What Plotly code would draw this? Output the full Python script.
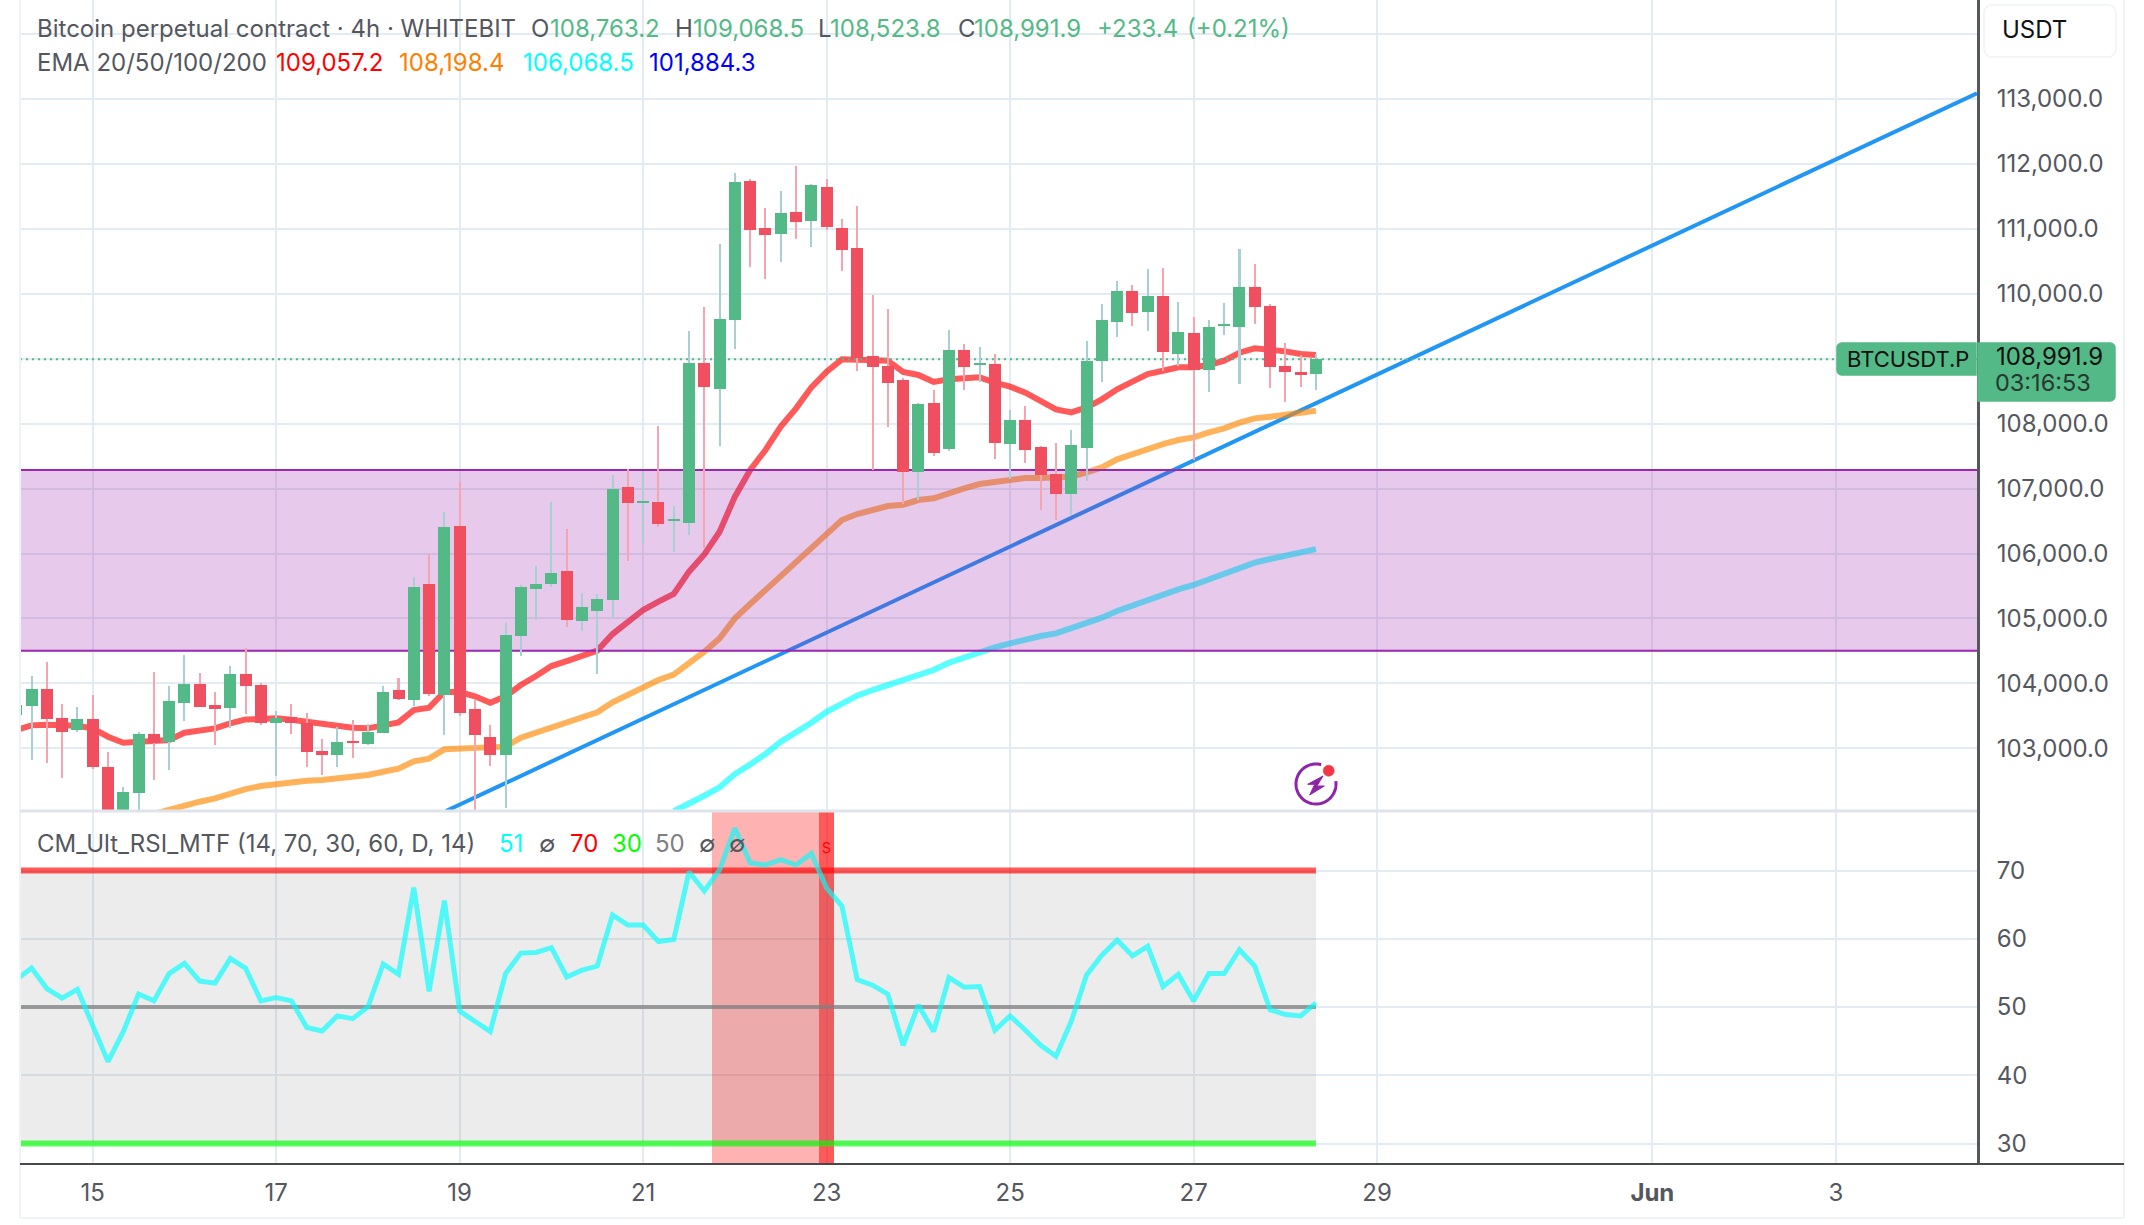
import numpy as np
import pandas as pd
import plotly.graph_objects as go

W, H = 2144, 1225
FONT = "Inter"

# 4h candles, BTCUSDT perpetual
candle_times = pd.date_range("2025-05-14 04:00", periods=86, freq="4h")
opens = [103512, 103651, 103913, 103466, 103281, 103451, 102711, 101900, 102311, 103220,
         103096, 103697, 103990, 103666, 103620, 104144, 103974, 103389, 103481, 103389,
         102958, 102896, 103112, 103065, 103235, 103897, 103744, 105531, 103821, 106424,
         103605, 103174, 102896, 104730, 105454, 105531, 105731, 104961, 105115, 105284,
         107025, 106778, 106794, 106501, 106470, 108935, 108534, 109597, 111738, 111014,
         110922, 111261, 111122, 111646, 111014, 110706, 109043, 108889, 108673, 107256,
         108318, 107610, 109135, 108904, 108919, 107686, 108056, 107640, 107224, 106916,
         107625, 108965, 109566, 110043, 109720, 109966, 109073, 109396, 108827, 109504,
         109489, 110105, 109812, 108888, 108796, 108763.2]
highs = [103750, 104113, 104329, 103682, 103635, 103820, 102942, 102403, 103250, 104175,
         103959, 104437, 104159, 103867, 104267, 104544, 104005, 103574, 103682, 103543,
         103142, 103327, 103435, 103374, 103959, 104082, 105638, 105993, 106640, 107102,
         103744, 103359, 104930, 105515, 105808, 106794, 106378, 105392, 105377, 107210,
         107302, 107271, 107965, 106732, 109428, 109797, 110768, 111862, 111769, 111322,
         111584, 111970, 111690, 111769, 111153, 111353, 109982, 109767, 108704, 108318,
         108519, 109443, 109227, 109181, 109073, 108210, 108272, 107650, 107702, 107902,
         109273, 109843, 110198, 110136, 110382, 110398, 109874, 109643, 109597, 109859,
         110690, 110459, 109843, 109242, 109058, 109068.5]
lows = [103400, 102819, 102778, 102542, 103250, 102680, 101800, 101700, 102000, 102511,
        102665, 103420, 103630, 103050, 103312, 103528, 103358, 102573, 103220, 102711,
        102588, 102711, 102850, 103050, 103230, 103743, 103651, 103805, 103204, 103497,
        102050, 102727, 102080, 104421, 104976, 105484, 104868, 104807, 104144, 105022,
        105885, 106162, 106409, 106024, 106285, 106085, 107656, 109150, 110414, 110229,
        110491, 110845, 110722, 110984, 110352, 108812, 107286, 107949, 106763, 106824,
        107502, 107579, 108519, 108642, 107456, 107147, 107394, 106670, 106516, 106593,
        107117, 108642, 109335, 109504, 109427, 108811, 108888, 107440, 108488, 109366,
        108611, 109535, 108549, 108333, 108565, 108523.8]
closes = [103666, 103913, 103451, 103250, 103451, 102711, 101950, 102326, 103220, 103081,
          103728, 103990, 103635, 103605, 104144, 103959, 103389, 103466, 103389, 102942,
          102896, 103096, 103081, 103250, 103867, 103759, 105484, 103836, 106409, 103543,
          103204, 102896, 104745, 105484, 105531, 105700, 104976, 105176, 105299, 106994,
          106778, 106809, 106455, 106532, 108935, 108565, 109613, 111723, 110984, 110907,
          111245, 111107, 111677, 111030, 110675, 109012, 108873, 108627, 107256, 108303,
          107548, 109135, 108873, 108935, 107702, 108056, 107594, 107209, 106916, 107671,
          108965, 109597, 110043, 109705, 109966, 109104, 109412, 108827, 109489, 109535,
          110105, 109797, 108873, 108796, 108749, 108991.9]

ema20 = [103281, 103353, 103363, 103363, 103348, 103307, 103178, 103086, 103096, 103096,
         103127, 103240, 103281, 103307, 103384, 103445, 103451, 103461, 103440, 103410,
         103363, 103343, 103317, 103307, 103358, 103399, 103589, 103625, 103867, 103867,
         103800, 103700, 103800, 103975, 104113, 104267, 104344, 104421, 104504, 104760,
         104945, 105130, 105258, 105377, 105721, 105985, 106336, 106876, 107286, 107595,
         107954, 108236, 108560, 108801, 108991, 108991, 108981, 108971, 108796, 108750,
         108642, 108683, 108698, 108714, 108631, 108570, 108477, 108349, 108221, 108174,
         108251, 108375, 108529, 108647, 108765, 108816, 108868, 108868, 108903, 108970,
         109093, 109160, 109145, 109114, 109073, 109057.2]
ema50 = [None, None, None, None, None, None, None, None, None, 101990,
         102059, 102126, 102177, 102229, 102306, 102372, 102418, 102449, 102485, 102501,
         102511, 102537, 102562, 102588, 102639, 102685, 102800, 102840, 102984, 103000,
         103006, 103012, 103025, 103163, 103240, 103333, 103410, 103477, 103554, 103708,
         103821, 103949, 104052, 104135, 104308, 104488, 104693, 105001, 105222, 105438,
         105669, 105874, 106080, 106320, 106516, 106608, 106680, 106732, 106752, 106824,
         106850, 106937, 107004, 107070, 107106, 107147, 107163, 107163, 107163, 107183,
         107250, 107327, 107450, 107532, 107620, 107686, 107748, 107789, 107866, 107928,
         108015, 108082, 108108, 108138, 108169, 108198.4]
ema100 = [None] * 43 + [102030, 102162, 102269, 102398, 102603, 102752, 102911, 103101,
                        103245, 103394, 103563, 103692, 103810, 103897, 103974, 104051,
                        104139, 104205, 104318, 104400, 104477, 104554, 104616, 104678,
                        104729, 104770, 104847, 104924, 105012, 105114, 105196, 105294,
                        105371, 105448, 105515, 105602, 105679, 105782, 105859, 105915,
                        105972, 106028, 106068.5]

rsi = [54.0, 55.7, 52.7, 51.3, 52.6, 47.4, 42.0, 46.4, 51.9, 50.9,
       54.9, 56.4, 53.8, 53.5, 57.1, 55.7, 50.9, 51.4, 50.9, 47.0,
       46.5, 48.7, 48.3, 50.0, 56.3, 54.8, 67.5, 52.3, 65.6, 49.4,
       47.8, 46.4, 54.9, 57.9, 58.0, 58.7, 54.4, 55.4, 56.0, 63.5,
       62.0, 62.0, 59.6, 59.9, 69.8, 67.0, 70.1, 76.2, 71.1, 70.8,
       71.6, 70.8, 72.5, 67.4, 64.8, 54.0, 53.2, 51.9, 44.4, 50.3,
       46.4, 54.3, 52.9, 53.0, 46.6, 48.7, 46.6, 44.4, 42.8, 47.9,
       54.7, 57.6, 59.8, 57.5, 58.9, 53.0, 54.8, 50.9, 54.9, 54.9,
       58.4, 56.0, 49.6, 48.9, 48.7, 50.6]

zone_low, zone_high = 104503, 107287
last_close = 108991.9
trend_times = ["2025-05-18 20:25", "2025-06-04 12:56"]
trend_prices = [102034, 113089]
rsi_upper, rsi_lower, rsi_mid = 70, 30, 50
overbought_times = ["2025-05-21 20:00", "2025-05-22 00:00", "2025-05-22 04:00", "2025-05-22 08:00",
                    "2025-05-22 12:00", "2025-05-22 16:00", "2025-05-22 20:00"]
sell_time = "2025-05-23 00:00"

price_ticks = list(range(103000, 114001, 1000))
covered_ticks = [109000, 114000]
rsi_ticks = [30, 40, 50, 60, 70]
date_ticks = ["2025-05-15", "2025-05-17", "2025-05-19", "2025-05-21", "2025-05-23",
              "2025-05-25", "2025-05-27", "2025-05-29", "2025-06-01", "2025-06-03"]
date_labels = ["15", "17", "19", "21", "23", "25", "27", "29", "<b>Jun</b>", "3"]
x_window = ["2025-05-14 04:59", "2025-06-04 12:56"]
price_window = [102034, 114526]
rsi_window = [27.0, 78.72]

GREEN, RED = "#53b987", "#ef4f5f"
GREEN_WICK, RED_WICK = "#a8cfd2", "#f6a5b0"
GRID = "#e3ecf2"
AXIS_TEXT = "#55575e"
HOUR = 3600_000

# pixel helpers for the chrome drawn in paper coordinates
def px(x):
    return x / W

def py(y):
    return 1 - y / H

def path_of(points, close=False):
    cmds = ["M" if i == 0 else "L" for i in range(len(points))]
    body = " ".join(f"{c}{px(x):.6f},{py(y):.6f}" for c, (x, y) in zip(cmds, points))
    return body + (" Z" if close else "")

def rounded(x0, y0, x1, y1, r_left, r_right):
    pts = []
    corners = [(x0, y0, r_left, 180), (x1, y0, r_right, 270), (x1, y1, r_right, 0), (x0, y1, r_left, 90)]
    signs = [(1, 1), (-1, 1), (-1, -1), (1, -1)]
    for (cx, cy, r, start), (sx, sy) in zip(corners, signs):
        if r == 0:
            pts.append((cx, cy))
            continue
        for a in np.radians(np.linspace(start, start + 90, 7)):
            pts.append((cx + sx * r + r * np.cos(a), cy + sy * r + r * np.sin(a)))
    return path_of(pts, close=True)

fig = go.Figure()

# trend line, moving averages and last-price line sit on the base price axis
fig.add_trace(go.Scatter(x=trend_times, y=trend_prices, mode="lines",
                         line=dict(color="#2196f3", width=4), xaxis="x", yaxis="y"))
for series, colour in ((ema100, "rgba(0,255,255,0.65)"), (ema50, "rgba(255,136,0,0.65)"), (ema20, "rgba(255,0,0,0.65)")):
    fig.add_trace(go.Scatter(x=candle_times, y=series, mode="lines",
                             line=dict(color=colour, width=6), xaxis="x", yaxis="y"))
fig.add_trace(go.Scatter(x=x_window, y=[last_close, last_close], mode="lines",
                         line=dict(color=GREEN, width=2, dash="2px,4px"), xaxis="x", yaxis="y"))

# support zone, tinting what lies beneath it
fig.add_trace(go.Scatter(x=["2025-05-14", "2025-06-05", "2025-06-05", "2025-05-14", "2025-05-14"],
                         y=[zone_low, zone_low, zone_high, zone_high, zone_low],
                         mode="lines", fill="toself", fillcolor="rgba(156,39,176,0.25)",
                         line=dict(color="#9c27b0", width=2), xaxis="x", yaxis="y3"))

# candles on the top layer: wicks first, bodies over them
o, h, l, c = map(np.array, (opens, highs, lows, closes))
up = c >= o
fig.add_trace(go.Bar(x=candle_times, y=h - l, base=l, width=0.53 * HOUR,
                     marker=dict(color=[GREEN_WICK if u else RED_WICK for u in up], line=dict(width=0)),
                     xaxis="x", yaxis="y4"))
fig.add_trace(go.Bar(x=candle_times, y=np.abs(c - o), base=np.minimum(o, c), width=3.14 * HOUR,
                     marker=dict(color=[GREEN if u else RED for u in up], line=dict(width=0)),
                     xaxis="x", yaxis="y4"))

# RSI pane: overbought background per bar, channel, midline and the oscillator
rsi_span = rsi_window[1] - rsi_window[0]
fig.add_trace(go.Bar(x=overbought_times, y=[rsi_span] * len(overbought_times), base=rsi_window[0], width=4 * HOUR,
                     marker=dict(color="rgba(255,0,0,0.3)", line=dict(width=0)), xaxis="x2", yaxis="y2"))
fig.add_trace(go.Bar(x=[sell_time], y=[rsi_span], base=rsi_window[0], width=4 * HOUR,
                     marker=dict(color="rgba(255,0,0,0.65)", line=dict(width=0)), xaxis="x2", yaxis="y2"))
fig.add_trace(go.Scatter(x=candle_times, y=[rsi_upper] * 86, mode="lines",
                         line=dict(color="rgba(255,0,0,0.65)", width=6), xaxis="x2", yaxis="y2"))
fig.add_trace(go.Scatter(x=candle_times, y=[rsi_lower] * 86, mode="lines", fill="tonexty",
                         fillcolor="rgba(128,128,128,0.15)",
                         line=dict(color="rgba(0,255,0,0.65)", width=6), xaxis="x2", yaxis="y2"))
fig.add_trace(go.Scatter(x=candle_times, y=[rsi_mid] * 86, mode="lines",
                         line=dict(color="rgba(128,128,128,0.75)", width=4), xaxis="x2", yaxis="y2"))
fig.add_trace(go.Scatter(x=candle_times, y=rsi, mode="lines",
                         line=dict(color="rgba(0,255,255,0.65)", width=5), xaxis="x2", yaxis="y2"))

x_dom = [px(20), px(1977)]
price_dom = [py(811), 1]
rsi_dom = [py(1164), py(811)]
y_common = dict(showgrid=False, zeroline=False, visible=False, range=price_window, overlaying="y", domain=price_dom)
tick_font = dict(family=FONT, size=24, color=AXIS_TEXT)
price_labels = ["" if v in covered_ticks else f"{v:,.1f}" for v in price_ticks]

fig.update_layout(
    width=W, height=H, autosize=False, margin=dict(l=0, r=0, t=0, b=0),
    paper_bgcolor="white", plot_bgcolor="white", showlegend=False, barmode="overlay", hovermode=False,
    bargap=0,
    xaxis=dict(type="date", domain=x_dom, range=x_window, anchor="y", tickvals=date_ticks, ticktext=date_labels,
               showticklabels=False, ticks="", showgrid=True, gridcolor=GRID, gridwidth=2, zeroline=False),
    xaxis2=dict(type="date", domain=x_dom, range=x_window, anchor="y2", tickvals=date_ticks, ticktext=date_labels,
                ticks="", tickfont=tick_font, ticklabelstandoff=12, showgrid=True, gridcolor=GRID, gridwidth=2, zeroline=False),
    yaxis=dict(domain=price_dom, range=price_window, side="right", tickvals=price_ticks, ticktext=price_labels,
               tickfont=tick_font, ticks="", ticklabelstandoff=12, showgrid=True, gridcolor=GRID, gridwidth=2,
               zeroline=False, showline=True, linecolor="#55575e", linewidth=3, anchor="x"),
    yaxis3=y_common, yaxis4=y_common,
    yaxis2=dict(domain=rsi_dom, range=rsi_window, side="right", tickvals=rsi_ticks, tickfont=tick_font, ticks="",
                ticklabelstandoff=12, showgrid=True, gridcolor=GRID, gridwidth=2, zeroline=False,
                showline=True, linecolor="#55575e", linewidth=3, anchor="x2"),
)

shapes = []
def rule(x0, y0, x1, y1, colour, width):
    shapes.append(dict(type="line", xref="paper", yref="paper", x0=px(x0), y0=py(y0), x1=px(x1), y1=py(y1),
                       line=dict(color=colour, width=width)))

rule(20, 0, 20, 1218, "#eff2f8", 2)
rule(2124, 0, 2124, 1218, "#eff2f8", 2)
rule(20, 1218, 2124, 1218, "#eff2f8", 2)
rule(20, 811, 1977, 811, "#dfe3ec", 3)
rule(20, 1164, 2124, 1164, "#47494f", 2)

# price tags and the currency button
for path, fill, line in (
    (rounded(1837, 343, 1976, 375, 5, 0), GREEN, GREEN),
    (rounded(1978, 343, 2115, 401, 0, 5), GREEN, GREEN),
    (rounded(1984, 5, 2116, 57, 8, 8), "white", "#f0f3f8"),
):
    shapes.append(dict(type="path", xref="paper", yref="paper", path=path, fillcolor=fill,
                       line=dict(color=line, width=1.5)))

# alert badge: open ring, bolt and notification dot
cx, cy = 1316, 784
ring = [(cx + 20 * np.cos(a), cy - 20 * np.sin(a)) for a in np.radians(np.linspace(75, 368, 60))]
shapes.append(dict(type="path", xref="paper", yref="paper", path=path_of(ring), line=dict(color="#8e24aa", width=3)))
bolt = [(7, -8), (-8.3, 0.3), (-1.3, 0.3), (-6.3, 11), (8.3, 2), (1, 2)]
shapes.append(dict(type="path", xref="paper", yref="paper", path=path_of([(cx + a, cy + b) for a, b in bolt], close=True),
                   fillcolor="#8e24aa", line=dict(color="#8e24aa", width=1)))
dot = [(1328.7 + 5.5 * np.cos(a), 770.7 + 5.5 * np.sin(a)) for a in np.linspace(0, 2 * np.pi, 30)]
shapes.append(dict(type="path", xref="paper", yref="paper", path=path_of(dot, close=True),
                   fillcolor="#f23645", line=dict(color="#f23645", width=0.5)))
fig.update_layout(shapes=shapes)

def label(x, y, text, colour="#55575e", size=24):
    fig.add_annotation(x=px(x), y=py(y), xref="paper", yref="paper", text=text, showarrow=False, xanchor="left",
                       yanchor="middle", borderpad=0, font=dict(family=FONT, size=size, color=colour))

# legend rows
label(36, 29, "Bitcoin perpetual contract · 4h · WHITEBIT")
for x, t, col in ((530, "O", "#55575e"), (549, "108,763.2", GREEN), (674, "H", "#55575e"), (692, "109,068.5", GREEN),
                  (817, "L", "#55575e"), (829, "108,523.8", GREEN), (957, "C", "#55575e"), (973, "108,991.9", GREEN),
                  (1096, "+233.4", GREEN), (1186, "(+0.21%)", GREEN)):
    label(x, 29, t, col)
label(36, 63, "EMA 20/50/100/200")
for x, t, col in ((275, "109,057.2", "#ff0000"), (398, "108,198.4", "#ff8000"), (522, "106,068.5", "#00ffff"), (648, "101,884.3", "#0000ff")):
    label(x, 63, t, col)
label(36, 843, "CM_Ult_RSI_MTF (14, 70, 30, 60, D, 14)")
for x, t, col in ((498, "51", "#00ffff"), (538, "∅", "#55575e"), (569, "70", "#ff0000"), (611, "30", "#00ff00"),
                  (654, "50", "#808080"), (698, "∅", "#55575e"), (728, "∅", "#55575e")):
    label(x, 843, t, col)

# tags and button text
label(1846, 359, "BTCUSDT.P", "#111111", 22)
label(1995, 357, "108,991.9", "#111111", 24)
label(1994, 383, "03:16:53", "#27382f", 23.5)
label(2001, 30, "USDT", "#111111", 24)

# sell marker above the bar that closed the overbought run
fig.add_annotation(x=sell_time, y=73.4, xref="x2", yref="y2", text="S", showarrow=False,
                   font=dict(family=FONT, size=14, color="#ff0000"))

fig.write_html("out.html", config=dict(displayModeBar=False))
